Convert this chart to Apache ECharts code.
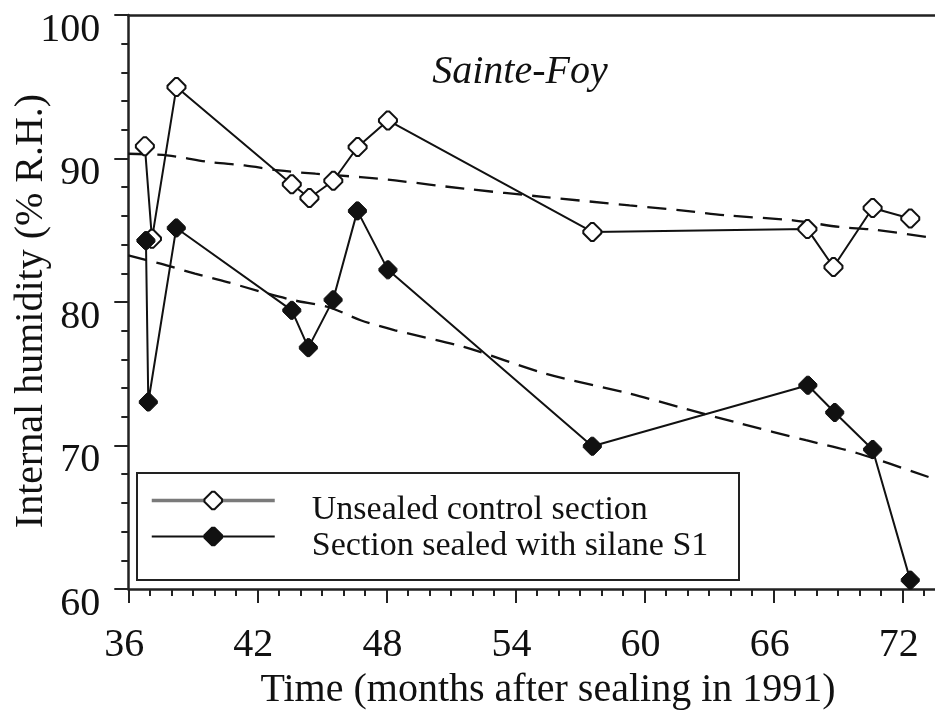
<!DOCTYPE html>
<html>
<head>
<meta charset="utf-8">
<script src="https://cdn.jsdelivr.net/npm/echarts@6/dist/echarts.min.js"></script>
<style>
  html, body { margin: 0; padding: 0; background: #fff; }
  #chart { width: 935px; height: 713px; }
</style>
</head>
<body>
<div id="chart"></div>
<script>
// Internal humidity at Sainte-Foy, months after sealing in 1991
const monthsUnsealed = [36.77, 37.1, 38.24, 43.6, 44.42, 45.53, 46.66, 48.07, 57.57, 67.57, 68.78, 70.6, 72.35];
const rhUnsealed     = [90.86, 84.4, 94.98, 88.2, 87.25, 88.45, 90.8, 92.65, 84.88, 85.08, 82.44, 86.55, 85.82];

const monthsSealed = [36.82, 36.93, 38.23, 43.6, 44.37, 45.52, 46.65, 48.07, 57.57, 67.59, 68.84, 70.6, 72.35];
const rhSealed     = [84.28, 73.03, 85.16, 79.42, 76.82, 80.15, 86.35, 82.24, 69.95, 74.2, 72.3, 69.72, 60.62];

// Dashed trend curves
const trendUnsealedMonths = [36, 37.8, 39.8, 41.4, 43.0, 44.7, 46.8, 48.4, 51.6, 55.4, 59.3, 61.7, 63.8, 66.9, 69.1, 70.6, 73.5];
const trendUnsealedRh     = [90.33, 90.22, 89.75, 89.52, 89.17, 88.94, 88.7, 88.47, 87.9, 87.31, 86.73, 86.39, 86.04, 85.69, 85.22, 85.05, 84.45];
const trendSealedMonths = [36, 37.5, 39.1, 40.6, 42.2, 43.7, 45.3, 46.8, 48.4, 51.6, 55.4, 59.3, 61.8, 64.4, 67.5, 69.9, 73.5];
const trendSealedRh     = [83.25, 82.67, 81.98, 81.39, 80.7, 80.12, 79.65, 78.73, 78.03, 76.87, 75.01, 73.62, 72.6, 71.55, 70.37, 69.46, 67.65];

// Axis ticks
const monthLabels = [36, 42, 48, 54, 60, 66, 72];
const monthTicks = [37, 38, 39, 40, 41, 43, 44, 45, 46, 47, 49, 50, 51, 52, 53, 55, 56, 57, 58, 59,
                    61, 62, 63, 64, 65, 67, 68, 69, 70, 71, 73];
const monthMin = 36, monthMax = 73.5;

const seriesNames = ['Unsealed control section', 'Section sealed with silane S1'];
const siteName = 'Sainte-Foy';
const xTitle = 'Time (months after sealing in 1991)';
const yTitle = 'Internal humidity (% R.H.)';

const zip = (xs, ys) => xs.map((x, i) => [x, ys[i]]);

const INK = '#111';
const AXIS = '#222';
const FONT = 'Liberation Serif, Times New Roman, serif';
const marker = 'path://M-1.5,-10L1.5,-10L10,-1.5L10,1.5L1.5,10L-1.5,10L-10,1.5L-10,-1.5Z';

const chart = echarts.init(document.getElementById('chart'));

const bareX = {
  type: 'value', min: monthMin, max: monthMax,
  splitLine: { show: false }, axisLabel: { show: false }, axisTick: { show: false }
};

chart.setOption({
  backgroundColor: '#fff',
  animation: false,
  grid: { left: 128.3, top: 15, bottom: 124, right: 0 },
  xAxis: [
    {
      type: 'value', min: monthMin, max: monthMax, position: 'bottom',
      splitLine: { show: false },
      axisLine: { onZero: false, lineStyle: { color: AXIS, width: 2.5 } },
      axisTick: { inside: false, length: 14, customValues: monthLabels, lineStyle: { color: AXIS, width: 2 } },
      axisLabel: {
        customValues: monthLabels, margin: 36, color: INK,
        fontFamily: FONT, fontSize: 40, padding: [0, 8, 0, 0]
      }
    },
    Object.assign({}, bareX, {
      position: 'bottom',
      axisLine: { show: false },
      axisTick: { show: true, inside: false, length: 7, customValues: monthTicks, lineStyle: { color: AXIS, width: 2 } }
    }),
    Object.assign({}, bareX, {
      position: 'top',
      axisLine: { show: true, onZero: false, lineStyle: { color: AXIS, width: 2.5 } }
    })
  ],
  yAxis: {
    type: 'value', min: 60, max: 100, interval: 10,
    splitLine: { show: false },
    axisLine: { onZero: false, lineStyle: { color: AXIS, width: 2.5 } },
    axisTick: { inside: false, length: 14, lineStyle: { color: AXIS, width: 2 } },
    minorTick: { show: true, splitNumber: 5, length: 7, lineStyle: { color: AXIS, width: 2 } },
    minorSplitLine: { show: false },
    axisLabel: {
      margin: 28, color: INK,
      formatter: v => '{v|' + v + '}',
      rich: { v: { fontFamily: FONT, fontSize: 40, color: INK, padding: [30, 0, 0, 0] } }
    }
  },
  legend: {
    orient: 'vertical', left: 150, top: 473.5, padding: 0,
    itemWidth: 123, itemHeight: 22, itemGap: -18,
    selectedMode: false, z: 6,
    formatter: name => '{t|' + name + '}',
    textStyle: {
      color: INK,
      rich: { t: { fontFamily: FONT, fontSize: 34, color: INK, lineHeight: 20, padding: [20, 0, 0, 32] } }
    },
    data: [
      { name: seriesNames[0], lineStyle: { color: '#7a7a7a', width: 3.5 } },
      { name: seriesNames[1], lineStyle: { color: INK, width: 2 } }
    ]
  },
  graphic: [
    {
      type: 'rect', z: 5, silent: true,
      shape: { x: 137, y: 473, width: 602, height: 107 },
      style: { fill: '#fff', stroke: AXIS, lineWidth: 2 }
    },
    {
      type: 'text', z: 6, x: 520, y: 72,
      style: { text: siteName, font: 'italic 40px ' + FONT, fill: INK, align: 'center', verticalAlign: 'middle' }
    },
    {
      type: 'text', z: 6, x: 548, y: 690,
      style: { text: xTitle, font: '40px ' + FONT, fill: INK, align: 'center', verticalAlign: 'middle' }
    },
    {
      type: 'text', z: 6, x: 31, y: 311, rotation: Math.PI / 2,
      style: { text: yTitle, font: '40px ' + FONT, fill: INK, align: 'center', verticalAlign: 'middle' }
    }
  ],
  series: [
    {
      name: 'trend-unsealed', type: 'line', data: zip(trendUnsealedMonths, trendUnsealedRh),
      symbol: 'none', smooth: 0.3, silent: true, z: 1,
      lineStyle: { color: INK, width: 2.3, type: [19, 10] }
    },
    {
      name: 'trend-sealed', type: 'line', data: zip(trendSealedMonths, trendSealedRh),
      symbol: 'none', smooth: 0.3, silent: true, z: 1,
      lineStyle: { color: INK, width: 2.3, type: [19, 10] }
    },
    {
      name: seriesNames[0], type: 'line', data: zip(monthsUnsealed, rhUnsealed),
      symbol: marker, symbolSize: 18, z: 3,
      lineStyle: { color: INK, width: 2 },
      itemStyle: { color: '#fff', borderColor: INK, borderWidth: 2 }
    },
    {
      name: seriesNames[1], type: 'line', data: zip(monthsSealed, rhSealed),
      symbol: marker, symbolSize: 18, z: 4,
      lineStyle: { color: INK, width: 2 },
      itemStyle: { color: INK, borderColor: INK, borderWidth: 1 }
    }
  ]
});
</script>
</body>
</html>
